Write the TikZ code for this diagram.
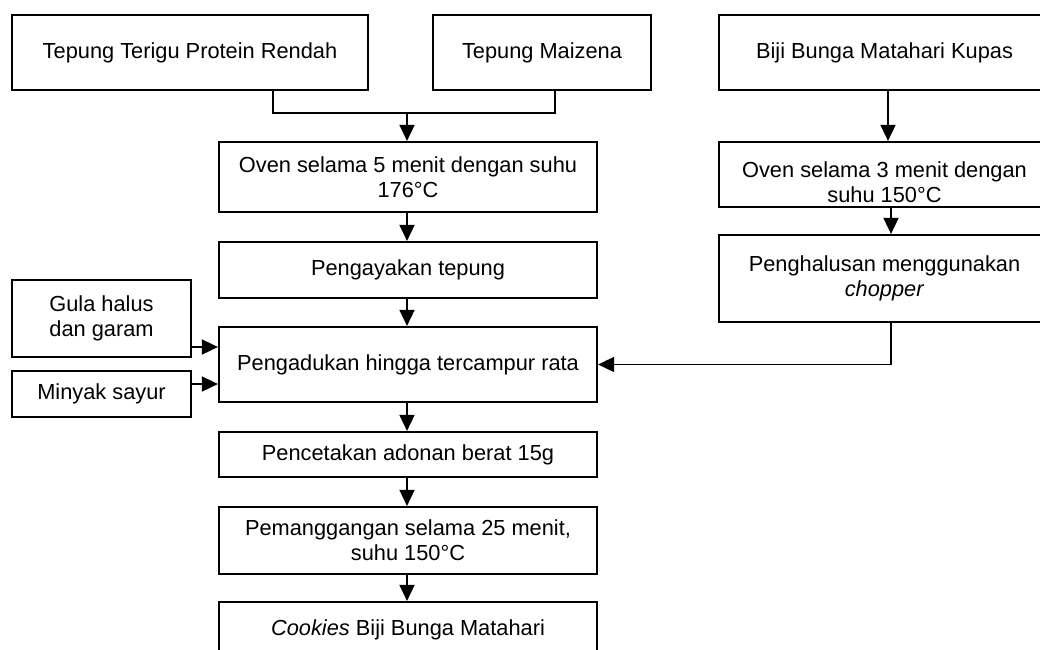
\documentclass[tikz,border=0pt]{standalone}
\usepackage{fontspec}
\setmainfont{Liberation Sans}
\usetikzlibrary{arrows.meta}
\tikzset{
	flow box/.style={draw,line width=2.2pt,align=center,inner sep=0pt,font=\fontsize{21.8}{25}\selectfont},
	flow text/.style={align=center,inner sep=0pt,font=\fontsize{21.8}{25}\selectfont},
	flow line/.style={line width=1.7pt},
	flow arrow/.style={flow line,-{Triangle[length=16pt,width=15pt]}},
}
\begin{document}
\begin{tikzpicture}[x=1pt,y=-1pt]
	\fill[white] (0,0) rectangle (1040,649);
	\useasboundingbox (0,0) rectangle (1040,649);
	\clip (0,0) rectangle (1040,649);
	% bahan awal
	\node[flow box,minimum width=356pt,minimum height=75pt] (terigu) at (190,52.5) {Tepung Terigu Protein Rendah};
	\node[flow box,minimum width=218pt,minimum height=75pt] (maizena) at (542,52.5) {Tepung Maizena};
	\node[flow box,minimum width=331pt,minimum height=75pt] (biji) at (884.5,52.5) {Biji Bunga Matahari Kupas};
	% jalur tepung
	\node[flow box,minimum width=378pt,minimum height=70pt] (oven5) at (408,177) {Oven selama 5 menit dengan suhu\\176°C};
	\node[flow box,minimum width=378pt,minimum height=56pt] (ayak) at (408,270) {Pengayakan tepung};
	\node[flow box,minimum width=378pt,minimum height=75pt] (aduk) at (408,364.5) {Pengadukan hingga tercampur rata};
	\node[flow box,minimum width=378pt,minimum height=45pt] (cetak) at (408,454.5) {Pencetakan adonan berat 15g};
	\node[flow box,minimum width=378pt,minimum height=67pt] (panggang) at (408,540.5) {Pemanggangan selama 25 menit,\\suhu 150°C};
	\node[flow box,minimum width=378pt,minimum height=56pt] (cookies) at (408,630) {\textit{Cookies} Biji Bunga Matahari};
	% jalur biji
	\node[flow box,minimum width=331pt,minimum height=65pt] (oven3) at (884.5,174.5) {};
	\begin{scope}
		\clip (719,142) rectangle (1050,203);
		\node[flow text] (oven3txt) at (884.5,182) {Oven selama 3 menit dengan\\suhu 150°C};
	\end{scope}
	\node[flow box,minimum width=331pt,minimum height=87pt] (halus) at (884.5,278.5) {Penghalusan menggunakan\\\textit{chopper}};
	% bahan tambahan
	\node[flow box,minimum width=179pt,minimum height=77pt] (gula) at (101.5,318.5) {Gula halus\\dan garam};
	\node[flow box,minimum width=179pt,minimum height=46pt] (minyak) at (101.5,394) {Minyak sayur};
	% penghubung
	\coordinate (gabung) at (407,113);
	\draw[flow line] ([xshift=83pt]terigu.south) |- ([xshift=13pt]maizena.south |- gabung) -- ([xshift=13pt]maizena.south);
	\draw[flow arrow] (gabung) -- (gabung |- oven5.north);
	\draw[flow arrow] ([xshift=-1pt]oven5.south) -- ([xshift=-1pt]ayak.north);
	\draw[flow arrow] ([xshift=-1pt]ayak.south) -- ([xshift=-1pt]aduk.north);
	\draw[flow arrow] ([xshift=-1pt]aduk.south) -- ([xshift=-1pt]cetak.north);
	\draw[flow arrow] ([xshift=-1pt]cetak.south) -- ([xshift=-1pt]panggang.north);
	\draw[flow arrow] ([xshift=-1pt]panggang.south) -- ([xshift=-1pt]cookies.north);
	\draw[flow arrow] ([xshift=3.5pt]biji.south) -- ([xshift=3.5pt]biji.south |- oven3.north);
	\draw[flow arrow] ([xshift=6.5pt]oven3.south) -- ([xshift=6.5pt]oven3.south |- halus.north);
	\draw[flow arrow] ([xshift=6.5pt]halus.south) |- (aduk.east);
	\draw[flow arrow] ([yshift=-28.5pt]gula.east) -- ([yshift=-28.5pt]gula.east -| aduk.west);
	\draw[flow arrow] ([yshift=10pt]minyak.east) -- ([yshift=10pt]minyak.east -| aduk.west);
\end{tikzpicture}
\end{document}
